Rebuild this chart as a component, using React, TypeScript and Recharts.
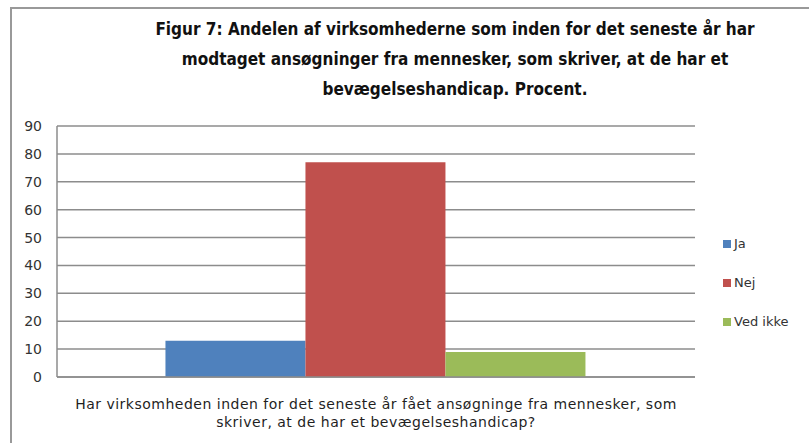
import { BarChart, Bar, XAxis, YAxis, CartesianGrid } from 'recharts';

const categories = ['Har virksomheden inden for det seneste år fået ansøgninge fra mennesker, som skriver, at de har et bevægelseshandicap?'];
const seriesNames = ['Ja', 'Nej', 'Ved ikke'];
const jaValues = [13];
const nejValues = [77];
const vedIkkeValues = [9];
const yTicks = [0, 10, 20, 30, 40, 50, 60, 70, 80, 90];
const titleLines = [
  'Figur 7: Andelen af virksomhederne som inden for det seneste år har',
  'modtaget ansøgninger fra mennesker, som skriver, at de har et',
  'bevægelseshandicap. Procent.',
];

const COLORS = ['#4f81bd', '#c0504d', '#9bbb59'];

const data = categories.map((c, i) => ({
  name: c,
  ja: jaValues[i],
  nej: nejValues[i],
  vedIkke: vedIkkeValues[i],
}));

const CategoryTick = (props: any) => {
  const { x, y, payload } = props;
  const text: string = payload.value;
  const cut = text.indexOf('som skriver');
  const lines = cut > 0 ? [text.slice(0, cut + 3), text.slice(cut + 4)] : [text];
  return (
    <g>
      {lines.map((l, i) => (
        <text key={i} x={x} y={y + 24 + i * 18} textAnchor="middle" fill="#1f1f1f" fontSize={14} letterSpacing={0.5} fontFamily="DejaVu Sans">
          {l}
        </text>
      ))}
    </g>
  );
};

export default function App() {
  return (
    <div style={{ position: 'absolute', left: 0, top: 0, width: 809, height: 443, background: '#fff', overflow: 'hidden' }}>
      <div style={{ position: 'absolute', left: 10, top: 7, width: 900, height: 500, borderLeft: '2px solid #999', borderTop: '2px solid #999' }} />
      <div style={{ position: 'absolute', left: 140, top: 14, width: 630, textAlign: 'center', fontFamily: 'DejaVu Sans Condensed', fontWeight: 'bold', fontSize: 17, lineHeight: '30px', color: '#111' }}>
        {titleLines.map((l) => (
          <div key={l}>{l}</div>
        ))}
      </div>
      <div style={{ position: 'absolute', left: 723, top: 224, fontFamily: 'DejaVu Sans', fontSize: 13, color: '#333' }}>
        {seriesNames.map((n, i) => (
          <div key={n} style={{ display: 'flex', alignItems: 'center', height: 39 }}>
            <span style={{ width: 8, height: 8, background: COLORS[i], marginRight: 3 }} />
            <span>{n}</span>
          </div>
        ))}
      </div>
      <BarChart width={809} height={443} data={data} margin={{ top: 126, right: 114, bottom: 0, left: 0 }} barCategoryGap="17%" barGap={0}>
        <CartesianGrid vertical={false} stroke="#8c8c8c" strokeWidth={1.5} />
        <XAxis dataKey="name" height={66} tickLine={false} axisLine={{ stroke: '#8c8c8c', strokeWidth: 1.5 }} tick={<CategoryTick />} interval={0} />
        <YAxis width={57} domain={[0, 90]} ticks={yTicks} tickLine={false} axisLine={{ stroke: '#8c8c8c', strokeWidth: 1.5 }} tickMargin={9} tick={{ fill: '#333', fontSize: 14, fontFamily: 'DejaVu Sans' }} interval={0} />
        <Bar dataKey="ja" name={seriesNames[0]} fill={COLORS[0]} isAnimationActive={false} />
        <Bar dataKey="nej" name={seriesNames[1]} fill={COLORS[1]} isAnimationActive={false} />
        <Bar dataKey="vedIkke" name={seriesNames[2]} fill={COLORS[2]} isAnimationActive={false} />
      </BarChart>
    </div>
  );
}
